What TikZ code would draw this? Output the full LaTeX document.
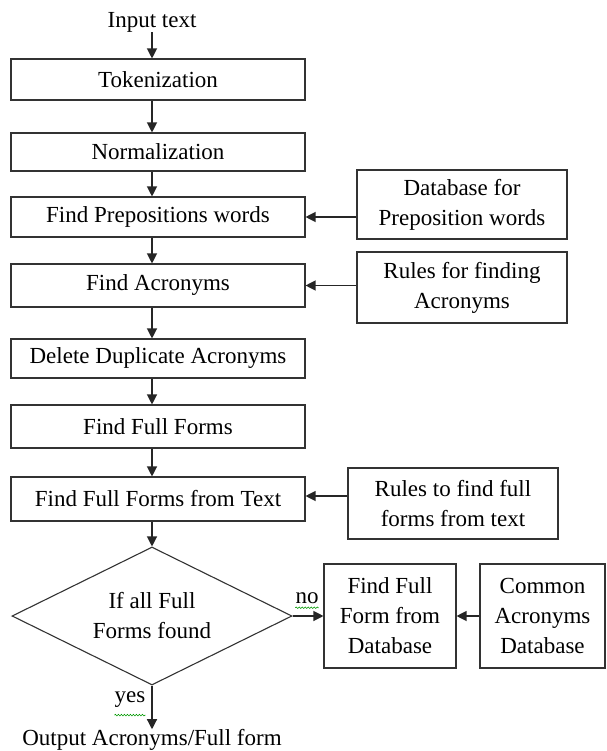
\documentclass[tikz,border=0pt]{standalone}
\usepackage{fontspec}
\setmainfont{Liberation Serif}
\usetikzlibrary{arrows.meta,shapes.geometric,decorations.pathmorphing}
\begin{document}
\begin{tikzpicture}[x=1pt,y=-1pt,
  every node/.style={font=\fontsize{23}{30}\selectfont, inner sep=0pt, text=black},
  box/.style={draw=black!80, line width=1.1pt, align=center},
  arr/.style={draw=black!85, line width=1.2pt, -{Triangle[length=10pt,width=10pt]}},
  squig/.style={draw=green!60!black, line width=0.6pt, decorate,
    decoration={snake, amplitude=0.8pt, segment length=3pt}}]
\useasboundingbox (0,0) rectangle (606,751);
\fill[white] (0,0) rectangle (606,751);

\node (in) at (152,22) {Input text};
\node[box, minimum width=294, minimum height=41] (tok) at (158,79.5) {Tokenization};
\node[box, minimum width=294, minimum height=38] (nor) at (158,152) {Normalization};
\node[box, minimum width=294, minimum height=40] (fp) at (158,217) {Find Prepositions words};
\node[box, minimum width=294, minimum height=43] (fa) at (158,285.5) {Find Acronyms};
\node[box, minimum width=294, minimum height=39] (dd) at (158,358.5) {Delete Duplicate Acronyms};
\node[box, minimum width=294, minimum height=43] (ff) at (158,426.5) {Find Full Forms};
\node[box, minimum width=294, minimum height=44] (fft) at (158,499) {Find Full Forms from Text};
\node[diamond, draw=black!80, line width=1.1pt, align=center, aspect=2,
      minimum width=280, minimum height=138] (dia) at (152,616) {If all Full\\Forms found};
\node (out) at (152,740) {Output Acronyms/Full form};

\node[box, minimum width=210, minimum height=69] (db) at (462,204.5) {Database for\\Preposition words};
\node[box, minimum width=210, minimum height=71] (r1) at (462,287.5) {Rules for finding\\Acronyms};
\node[box, minimum width=210, minimum height=71] (r2) at (453,503.5) {Rules to find full\\forms from text};
\node[box, minimum width=132, minimum height=104] (ffdb) at (390,616) {Find Full\\Form from\\Database};
\node[box, minimum width=125, minimum height=104] (cad) at (542.5,616) {Common\\Acronyms\\Database};

\draw[arr] (in.south) -- (tok.north -| in.south);
\draw[arr] (tok.south -| in.south) -- (nor.north -| in.south);
\draw[arr] (nor.south -| in.south) -- (fp.north -| in.south);
\draw[arr] (fp.south -| in.south) -- (fa.north -| in.south);
\draw[arr] (fa.south -| in.south) -- (dd.north -| in.south);
\draw[arr] (dd.south -| in.south) -- (ff.north -| in.south);
\draw[arr] (ff.south -| in.south) -- (fft.north -| in.south);
\draw[arr] (fft.south -| in.south) -- (dia.north);
\draw[arr] (dia.south) -- (out.north);

\draw[arr] (fp.east -| db.west) -- (fp.east);
\draw[arr] (fa.east -| r1.west) -- (fa.east);
\draw[arr] ([yshift=3pt]fft.east -| r2.west) -- ([yshift=3pt]fft.east);
\draw[arr] (dia.east) -- (ffdb.west);
\draw[arr] (cad.west) -- (ffdb.east);

\node (no) at (307,598) {no};
\node (yes) at (130,700) {yes};
\draw[squig] ([yshift=-4pt]no.south west) -- ([yshift=-4pt]no.south east);
\draw[squig] ([yshift=-7pt]yes.south west) -- ([yshift=-7pt]yes.south east);
\end{tikzpicture}
\end{document}
